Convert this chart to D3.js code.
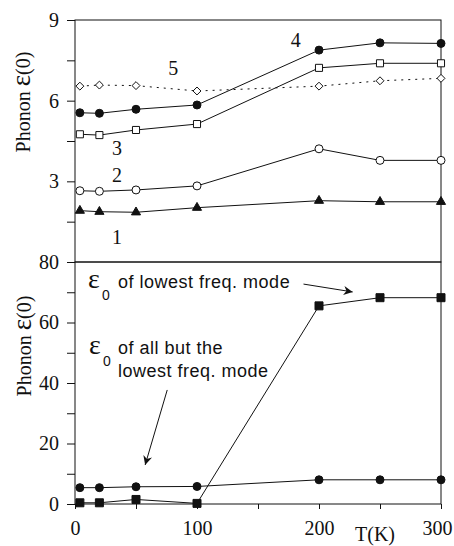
<!DOCTYPE html>
<html>
<head>
<meta charset="utf-8">
<script src="https://cdn.jsdelivr.net/npm/d3@7"></script>
<style>
  body { margin: 0; background: #fff; }
  svg { display: block; }
</style>
</head>
<body>
<svg width="454" height="546"></svg>
<script>
// Temperatures (K)
const temps = [4, 20, 50, 100, 200, 250, 300];

// Top panel: phonon eps(0) per mode
const mode1 = [1.91, 1.87, 1.85, 2.02, 2.28, 2.24, 2.24];
const mode2 = [2.65, 2.63, 2.68, 2.83, 4.21, 3.78, 3.78];
const mode3 = [4.75, 4.72, 4.91, 5.13, 7.22, 7.39, 7.39];
const mode4 = [5.55, 5.53, 5.68, 5.84, 7.88, 8.15, 8.13];
const mode5 = [6.54, 6.58, 6.56, 6.36, 6.54, 6.74, 6.83];

// Bottom panel
const lowestMode = [0.4, 0.4, 1.5, 0.2, 65.5, 68.2, 68.2];
const otherModes = [5.4, 5.4, 5.7, 5.8, 8.0, 8.0, 8.0];

// Ticks
const xTicks = [0, 100, 200, 300];
const xMinorTicks = [50, 150, 250];
const topTicks = [3, 6, 9];
const topMinorTicks = [1.5, 4.5, 7.5];
const bottomTicks = [0, 20, 40, 60, 80];
const bottomMinorTicks = [10, 30, 50, 70];

const SERIF = '"Liberation Serif", "DejaVu Serif", "Times New Roman", serif';
const SANS = '"Liberation Sans", Arial, sans-serif';

const svg = d3.select("svg");
const ink = "#111";

const left = 75, right = 441;
const topY0 = 20, topY1 = 262, botY1 = 504;

const x = d3.scaleLinear().domain([0, 300]).range([left, right]);
const yTop = d3.scaleLinear().domain([0, 9]).range([topY1, topY0]);
const yBot = d3.scaleLinear().domain([0, 80]).range([botY1, topY1]);

// Frames
svg.append("rect")
  .attr("x", left).attr("y", topY0)
  .attr("width", right - left).attr("height", topY1 - topY0)
  .attr("fill", "none").attr("stroke", ink).attr("stroke-width", 1);
svg.append("rect")
  .attr("x", left).attr("y", topY1)
  .attr("width", right - left).attr("height", botY1 - topY1)
  .attr("fill", "none").attr("stroke", ink).attr("stroke-width", 1);

// Y axes
function yAxis(scale, major, minor) {
  const g = svg.append("g").attr("transform", "translate(" + left + ",0)");
  g.call(d3.axisLeft(scale).tickValues(major.concat(minor)).tickSize(8)
    .tickFormat((d) => (major.includes(d) ? d : "")));
  g.attr("font-family", null);
  g.select(".domain").remove();
  g.selectAll("line").attr("stroke", ink);
  g.selectAll("text")
    .style("font-family", SERIF)
    .style("font-size", "20px")
    .attr("fill", ink)
    .attr("x", -16);
  return g;
}
yAxis(yTop, topTicks, topMinorTicks);
yAxis(yBot, bottomTicks, bottomMinorTicks);

// X axis
const gx = svg.append("g").attr("transform", "translate(0," + botY1 + ")");
gx.call(d3.axisBottom(x).tickValues(xTicks.concat(xMinorTicks)).tickSize(5)
  .tickFormat((d) => (xTicks.includes(d) ? d : "")));
gx.attr("font-family", null);
gx.select(".domain").remove();
gx.selectAll("line").attr("stroke", ink);
gx.selectAll("text")
  .style("font-family", SERIF)
  .style("font-size", "20px")
  .attr("fill", ink)
  .attr("y", 17)
  .attr("x", (d) => (d === 300 ? -4 : 0));

svg.append("text")
  .style("font-family", SERIF)
  .attr("x", 375).attr("y", 541)
  .attr("text-anchor", "middle")
  .style("font-size", "20px")
  .attr("fill", ink)
  .text("T(K)");

// Y labels
function yLabel(cx, cy) {
  const t = svg.append("text")
    .style("font-family", SERIF)
    .attr("transform", "translate(" + cx + "," + cy + ")rotate(-90)")
    .attr("text-anchor", "middle")
    .style("font-size", "20px")
    .attr("fill", ink);
  t.append("tspan").text("Phonon ");
  t.append("tspan").style("font-size", "27px").text("\u03b5");
  t.append("tspan").text("(0)");
}
yLabel(30, 102);
yLabel(31, 346);

// Series helper
function series(values, scale, marker, opts) {
  opts = opts || {};
  const pts = temps.map((t, i) => [t, values[i]]);
  const line = d3.line().x((d) => x(d[0])).y((d) => scale(d[1]));
  svg.append("path")
    .datum(pts)
    .attr("d", line)
    .attr("fill", "none")
    .attr("stroke", ink)
    .attr("stroke-width", 1)
    .attr("stroke-dasharray", opts.dash || null);
  const g = svg.append("g");
  const sel = g.selectAll("m").data(pts).enter();
  const fill = opts.filled ? ink : "#fff";
  if (marker === "circle") {
    sel.append("circle")
      .attr("cx", (d) => x(d[0])).attr("cy", (d) => scale(d[1]))
      .attr("r", opts.r || 4)
      .attr("fill", fill).attr("stroke", ink).attr("stroke-width", 1);
  } else {
    const sym = {
      square: d3.symbolSquare,
      diamond: d3.symbolDiamond2,
      triangle: d3.symbolTriangle,
    }[marker];
    sel.append("path")
      .attr("d", d3.symbol().type(sym).size(opts.size || 50))
      .attr("transform", (d) => "translate(" + x(d[0]) + "," + scale(d[1]) + ")")
      .attr("fill", fill).attr("stroke", ink).attr("stroke-width", 1);
  }
}

series(mode5, yTop, "diamond", { dash: "2,5", size: 40 });
series(mode1, yTop, "triangle", { filled: true, size: 36 });
series(mode2, yTop, "circle", { r: 4 });
series(mode3, yTop, "square", { size: 50 });
series(mode4, yTop, "circle", { filled: true, r: 4 });

series(otherModes, yBot, "circle", { filled: true, r: 4 });
series(lowestMode, yBot, "square", { filled: true, size: 64 });

// Curve labels
const curveLabels = [
  { t: "1", T: 34.5, v: 0.93 },
  { t: "2", T: 34.5, v: 3.23 },
  { t: "3", T: 34.5, v: 4.24 },
  { t: "4", T: 181, v: 8.25 },
  { t: "5", T: 80.5, v: 7.2 },
];
svg.selectAll(".clabel").data(curveLabels).enter()
  .append("text")
  .style("font-family", SERIF)
  .attr("x", (d) => x(d.T)).attr("y", (d) => yTop(d.v))
  .attr("dy", "0.35em")
  .attr("text-anchor", "middle")
  .style("font-size", "20px")
  .attr("fill", ink)
  .text((d) => d.t);

// Annotations (positions in data units)
function annText(T, v, txt) {
  return svg.append("text")
    .style("font-family", SANS)
    .attr("x", x(T)).attr("y", yBot(v))
    .style("font-size", "18px")
    .style("letter-spacing", "0.5px")
    .attr("fill", ink)
    .text(txt);
}
function eps0(T, v) {
  svg.append("text")
    .style("font-family", SERIF)
    .attr("x", x(T)).attr("y", yBot(v))
    .style("font-size", "28px")
    .attr("fill", ink)
    .text("\u03b5");
  svg.append("text")
    .style("font-family", SANS)
    .attr("x", x(T) + 14).attr("y", yBot(v) + 12)
    .style("font-size", "14px")
    .attr("fill", ink)
    .text("0");
}
eps0(10.7, 71.4);
annText(35.3, 71.4, "of lowest freq. mode");
eps0(11.5, 49.6);
annText(35.3, 49.6, "of all but the");
annText(35.3, 42.0, "lowest freq. mode");

svg.append("defs").append("marker")
  .attr("id", "head")
  .attr("viewBox", "0 0 10 10")
  .attr("refX", 10).attr("refY", 5)
  .attr("markerWidth", 16).attr("markerHeight", 9)
  .attr("markerUnits", "userSpaceOnUse")
  .attr("orient", "auto")
  .append("path").attr("d", "M0,0L10,5L0,10L3,5Z").attr("fill", ink);

const arrows = [
  [[187.3, 72.7], [227.6, 70.1]],
  [[75.6, 37.7], [57.5, 12.9]],
];
arrows.forEach((a) => {
  svg.append("line")
    .attr("x1", x(a[0][0])).attr("y1", yBot(a[0][1]))
    .attr("x2", x(a[1][0])).attr("y2", yBot(a[1][1]))
    .attr("stroke", ink).attr("stroke-width", 1)
    .attr("marker-end", "url(#head)");
});
</script>
</body>
</html>
